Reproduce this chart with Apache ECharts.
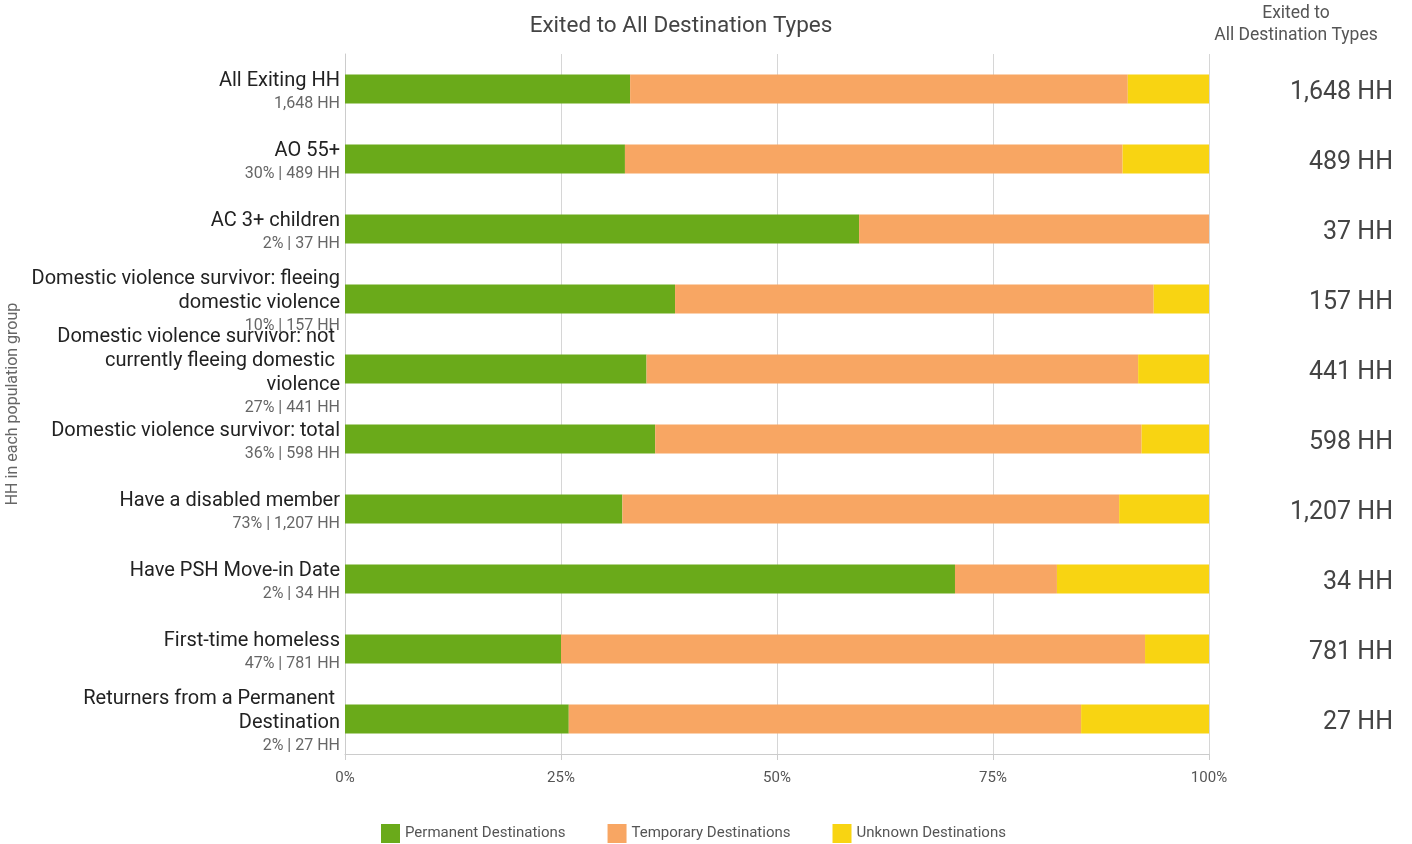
<!DOCTYPE html>
<html>
<head>
<meta charset="utf-8">
<script src="https://cdn.jsdelivr.net/npm/echarts@6/dist/echarts.min.js"></script>
<style>
html,body{margin:0;padding:0;background:#fff;}
#chart{width:1412px;height:844px;}
</style>
</head>
<body>
<div id="chart"></div>
<script>
var categories = [
  'All Exiting HH',
  'AO 55+',
  'AC 3+ children',
  'Domestic violence survivor: fleeing\ndomestic violence',
  'Domestic violence survivor: not \ncurrently fleeing domestic \nviolence',
  'Domestic violence survivor: total',
  'Have a disabled member',
  'Have PSH Move-in Date',
  'First-time homeless',
  'Returners from a Permanent \nDestination'
];
var subLabels = [
  '1,648 HH', '30% | 489 HH', '2% | 37 HH', '10% | 157 HH', '27% | 441 HH',
  '36% | 598 HH', '73% | 1,207 HH', '2% | 34 HH', '47% | 781 HH', '2% | 27 HH'
];
var totals = ['1,648 HH', '489 HH', '37 HH', '157 HH', '441 HH', '598 HH', '1,207 HH', '34 HH', '781 HH', '27 HH'];
var permanent = [33.0, 32.4, 59.5, 38.2, 34.9, 35.9, 32.1, 70.6, 25.0, 25.9];
var temporary = [57.6, 57.6, 40.5, 55.4, 56.9, 56.3, 57.5, 11.8, 67.6, 59.3];
var unknown   = [9.4, 10.0, 0.0, 6.4, 8.2, 7.8, 10.4, 17.6, 7.4, 14.8];
var xTicks = [0, 25, 50, 75, 100];

var FONT = 'Roboto, "Noto Sans", sans-serif';
var chart = echarts.init(document.getElementById('chart'));
var labelIdx = {};
categories.forEach(function (c, i) { labelIdx[c] = i; });

function mkSeries(name, data, color) {
  return {
    name: name, type: 'bar', stack: 'total', data: data,
    barWidth: 29,
    itemStyle: { color: color },
    emphasis: { disabled: true }
  };
}

chart.setOption({
  animation: false,
  textStyle: { fontFamily: FONT },
  title: [
    { text: 'Exited to All Destination Types', left: 676, top: 10, textAlign: 'center',
      textStyle: { fontFamily: FONT, fontSize: 22.5, fontWeight: 'normal', color: '#444' } },
    { text: 'Exited to\nAll Destination Types', left: 1291, top: -2, textAlign: 'center',
      textStyle: { fontFamily: FONT, fontSize: 17.5, fontWeight: 'normal', color: '#555', lineHeight: 22 } }
  ],
  legend: {
    left: 376, top: 819, icon: 'rect', itemWidth: 19, itemHeight: 19, itemGap: 42,
    textStyle: { fontFamily: FONT, fontSize: 15, color: '#555' },
    data: ['Permanent Destinations', 'Temporary Destinations', 'Unknown Destinations']
  },
  grid: { left: 345, right: 203, top: 54, bottom: 90, containLabel: false, outerBoundsMode: 'none' },
  xAxis: {
    type: 'value', min: 0, max: 100, interval: 12.5,
    axisLine: { show: true, lineStyle: { color: '#ccc' } },
    axisTick: { show: true, length: 6, customValues: xTicks, lineStyle: { color: '#ccc' } },
    axisLabel: {
      customValues: xTicks, margin: 17,
      fontFamily: FONT, fontSize: 15, color: '#555',
      formatter: function (v) { return v % 25 === 0 ? v + '%' : ''; }
    },
    splitLine: { show: true, lineStyle: { color: '#d6d6d6' } }
  },
  yAxis: [
    {
      type: 'category', inverse: true, data: categories,
      name: 'HH in each population group', nameLocation: 'middle', nameGap: 318, nameRotate: 90,
      nameTextStyle: { fontFamily: FONT, fontSize: 16, color: '#666' },
      axisLine: { show: true, lineStyle: { color: '#ccc' } },
      axisTick: { show: false },
      axisLabel: {
        margin: 5, fontFamily: FONT, fontSize: 20, color: '#222', lineHeight: 24,
        padding: [5, 0, 0, 0],
        formatter: function (v) { return v + '\n{sub|' + subLabels[labelIdx[v]] + '}'; },
        rich: { sub: { fontFamily: FONT, fontSize: 16, color: '#666', lineHeight: 22 } }
      }
    },
    {
      type: 'category', inverse: true, position: 'right', data: totals,
      axisLine: { show: false }, axisTick: { show: false },
      axisLabel: {
        margin: 184, align: 'right', fontFamily: FONT, fontSize: 25, color: '#444',
        formatter: function (v) { return '{v|' + v + '}'; },
        rich: { v: { fontFamily: FONT, fontSize: 25, color: '#444', padding: [8, 0, 0, 0] } }
      }
    }
  ],
  series: [
    mkSeries('Permanent Destinations', permanent, '#6aaa1a'),
    mkSeries('Temporary Destinations', temporary, '#f8a663'),
    mkSeries('Unknown Destinations', unknown, '#f8d412')
  ]
});
</script>
</body>
</html>
